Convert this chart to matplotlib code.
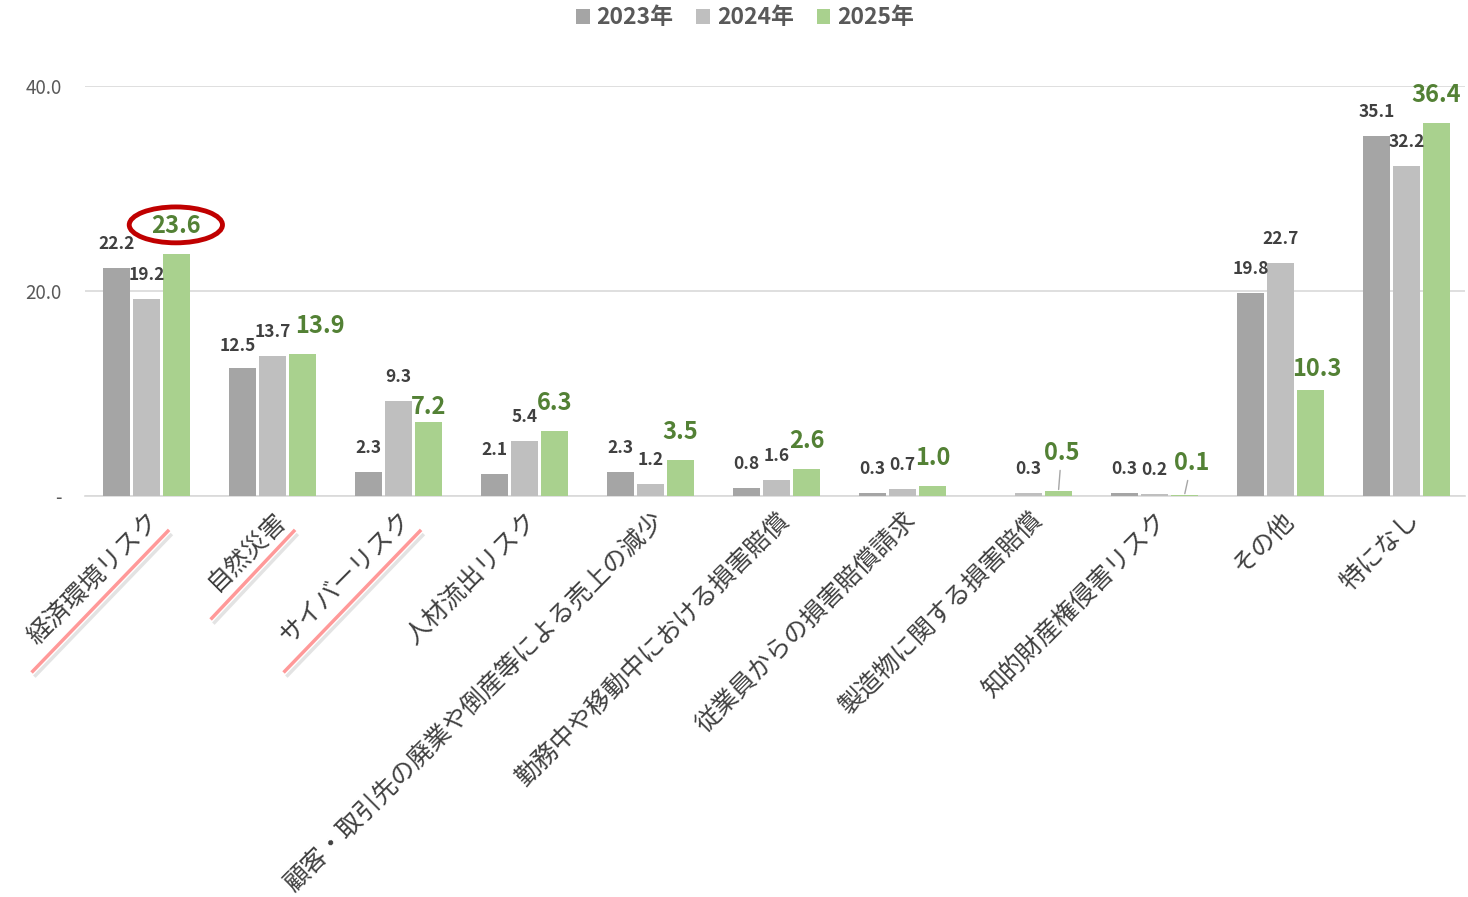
import numpy as np
import matplotlib
matplotlib.use("Agg")
import matplotlib.pyplot as plt
from matplotlib.patches import Ellipse
from matplotlib.lines import Line2D
import matplotlib.patheffects as pe

plt.rcParams['font.family'] = ['Noto Sans CJK JP', 'DejaVu Sans']

# data
categories = ['経済環境リスク', '自然災害', 'サイバーリスク', '人材流出リスク',
              '顧客・取引先の廃業や倒産等による売上の減少', '勤務中や移動中における損害賠償',
              '従業員からの損害賠償請求', '製造物に関する損害賠償', '知的財産権侵害リスク',
              'その他', '特になし']
years = ['2023年', '2024年', '2025年']
v2023 = [22.2, 12.5, 2.3, 2.1, 2.3, 0.8, 0.3, np.nan, 0.3, 19.8, 35.1]
v2024 = [19.2, 13.7, 9.3, 5.4, 1.2, 1.6, 0.7, 0.3, 0.2, 22.7, 32.2]
v2025 = [23.6, 13.9, 7.2, 6.3, 3.5, 2.6, 1.0, 0.5, 0.1, 10.3, 36.4]
yticks = [0, 20, 40]
ytick_labels = ['-', '20.0', '40.0']
underlined = [0, 1, 2]

colors = ['#A5A5A5', '#BFBFBF', '#A9D18E']
txt_gray = '#404040'
txt_green = '#538135'

W, H = 1468, 897
fig = plt.figure(figsize=(W / 100, H / 100), dpi=100)
ax = fig.add_axes([85 / W, 1 - 496 / H, 1380 / W, 410 / H])

x = np.arange(len(categories))
bw = 0.214
off = 0.238
series = [v2023, v2024, v2025]
for k, vals in enumerate(series):
    ax.bar(x + (k - 1) * off, vals, width=bw, color=colors[k], label=years[k], zorder=3)

ax.set_xlim(-0.488, 10.464)
ax.set_ylim(0, 40)
ax.set_yticks(yticks)
ax.set_yticklabels(ytick_labels)
ax.grid(axis='y', color='#D9D9D9', lw=1.2, zorder=0)
for s in ['top', 'right', 'left']:
    ax.spines[s].set_visible(False)
ax.spines['bottom'].set_color('#D9D9D9')
ax.spines['bottom'].set_linewidth(1.2)
ax.tick_params(axis='y', length=0, pad=17, labelsize=13.5, labelcolor='#595959')
ax.tick_params(axis='x', length=0, pad=8)
ax.set_xticks(x)
ax.set_xticklabels(categories, rotation=45, ha='right', va='top',
                   rotation_mode='anchor', fontsize=18, color='#404040')

# label nudges (pixels): (group, series) -> (dx, dy above bar top)
nudge = {(1, 0): (-5, 22), (1, 2): (17, 28), (2, 2): (0, 15),
         (7, 2): (3, 38), (8, 2): (7, 32), (9, 2): (6, 21)}
leaders = [(7, 2), (8, 2)]
for k, vals in enumerate(series):
    for i, v in enumerate(vals):
        if np.isnan(v):
            continue
        dx, dy = nudge.get((i, k), (0, 28 if k == 2 else 24))
        if k == 2:
            kw = dict(fontsize=17, color=txt_green, fontweight='bold')
        else:
            kw = dict(fontsize=12.5, color=txt_gray, fontweight='bold')
        ap = None
        if (i, k) in leaders:
            ap = dict(arrowstyle='-', color='#A6A6A6', lw=1, shrinkA=2, shrinkB=1)
        ax.annotate(f'{v:.1f}', xy=(x[i] + (k - 1) * off, v), xytext=(dx, dy),
                    textcoords='offset pixels', ha='center', va='center',
                    arrowprops=ap, annotation_clip=False, zorder=5, **kw)

# red ellipse around the 2025 value of the first category
ell = Ellipse((x[0] + off - 0.005, v2025[0] + 2.85), width=0.74, height=3.5,
              fill=False, edgecolor='#C00000', lw=3.5, clip_on=False, zorder=6)
ax.add_patch(ell)

leg = fig.legend(loc='center', bbox_to_anchor=(745 / W, 1 - 18 / H), ncol=3,
                 frameon=False, prop={'size': 16.5, 'weight': 'bold'},
                 handlelength=0.6, handleheight=0.6, handletextpad=0.3,
                 columnspacing=1.0, labelcolor='#595959')

# pink underline below the highlighted tick labels
fig.canvas.draw()
r = fig.canvas.get_renderer()
for i in underlined:
    bb = ax.get_xticklabels()[i].get_window_extent(r)
    x0, y0 = bb.x0 + 10, bb.y0 - 22
    x1, y1 = bb.x1 + 3, bb.y1 - 24
    ln = Line2D([x0 / W, x1 / W], [y0 / H, y1 / H], transform=fig.transFigure,
                color='#FF9999', lw=2.5,
                path_effects=[pe.SimpleLineShadow(offset=(2, -3), shadow_color='#909090', alpha=0.25),
                              pe.Normal()])
    fig.add_artist(ln)

fig.savefig('out.png', dpi=100)
